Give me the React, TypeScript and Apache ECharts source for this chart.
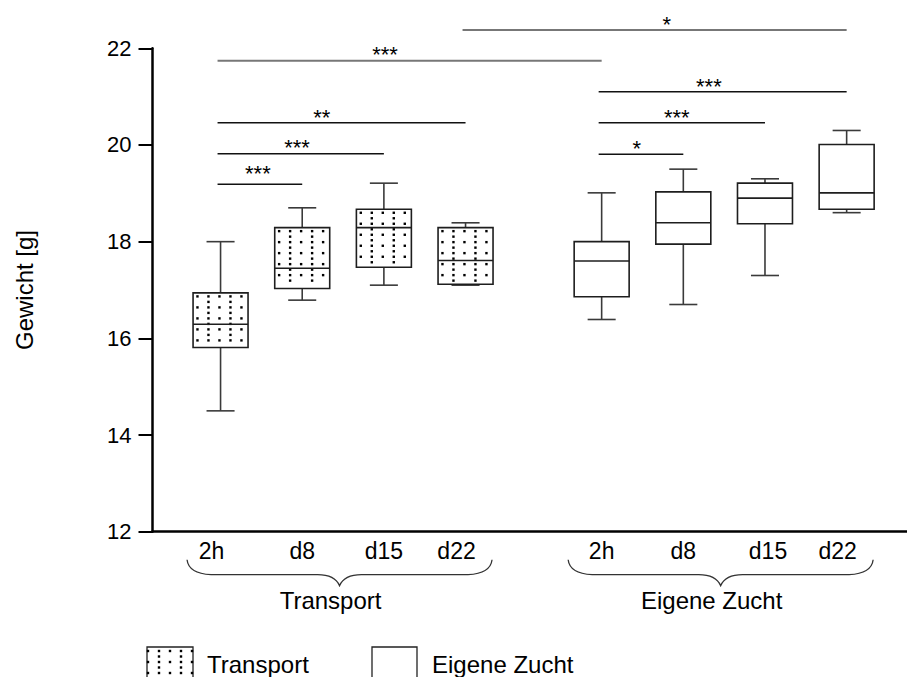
import React, { useEffect, useRef } from 'react';
import * as echarts from 'echarts';

// ---------------- data ----------------
const groupNames = ['Transport', 'Eigene Zucht'];
const timeLabels = ['2h', 'd8', 'd15', 'd22'];
// category slot of every box on the x axis (8 boxes, 28 slots in total)
const boxSlots = [2, 5, 8, 11, 16, 19, 22, 25];
const SLOT_COUNT = 28;
const yTicks = [12, 14, 16, 18, 20, 22];

// [min, Q1, median, Q3, max]
const transportStats = [
  [14.5, 15.81, 16.29, 16.94, 18.0],
  [16.79, 17.03, 17.45, 18.29, 18.7],
  [17.1, 17.47, 18.29, 18.67, 19.21],
  [17.1, 17.12, 17.61, 18.29, 18.39],
];
const eigeneStats = [
  [16.39, 16.86, 17.6, 18.0, 19.01],
  [16.7, 17.95, 18.39, 19.03, 19.5],
  [17.3, 18.37, 18.9, 19.21, 19.3],
  [18.6, 18.67, 19.01, 20.01, 20.3],
];

// significance bars: [fromBox, toBox, barLevel, starSlot, starLevel]
const sigBars = [
  [3, 7, 22.38, 18.39, 22.59],
  [0, 4, 21.74, 8.04, 21.97],
  [4, 7, 21.1, 19.94, 21.32],
  [0, 3, 20.46, 5.72, 20.67],
  [4, 6, 20.46, 18.76, 20.68],
  [0, 2, 19.82, 4.81, 20.05],
  [4, 5, 19.81, 17.29, 20.04],
  [0, 1, 19.19, 3.37, 19.52],
];
const sigLabels = ['*', '***', '***', '**', '***', '***', '*', '***'];
const sigGray = [true, true, false, false, false, false, false, false];

// --------------------------------------
const FONT = '"Liberation Sans", Arial, Helvetica, sans-serif';

const slotLabels: string[] = Array.from({ length: SLOT_COUNT }, () => '');
boxSlots.forEach((s, i) => {
  slotLabels[s] = timeLabels[i % 4];
});

const allStats = [...transportStats, ...eigeneStats];
const boxData = boxSlots.map((s, i) => [s, ...allStats[i], i < 4 ? 1 : 0]);
const sigData = sigBars.map(([a, b, lvl, sx, sy]) => [boxSlots[a], lvl, boxSlots[b], sx, sy]);
const groupData = [
  [boxSlots[0], 12, boxSlots[3]],
  [boxSlots[4], 12, boxSlots[7]],
];

function renderBox(params: any, api: any) {
  const x = api.value(0);
  const pMin = api.coord([x, api.value(1)]);
  const cx = pMin[0];
  const yMin = pMin[1];
  const yQ1 = api.coord([x, api.value(2)])[1];
  const yMed = api.coord([x, api.value(3)])[1];
  const yQ3 = api.coord([x, api.value(4)])[1];
  const yMax = api.coord([x, api.value(5)])[1];
  const dotted = api.value(6) === 1;
  const slotW = api.size([1, 0])[0];
  const bw = slotW * 2.02;
  const capW = slotW * 1.03;
  const left = cx - bw / 2;
  const wStyle = { stroke: '#3a3a3a', lineWidth: 1.6 };
  const children: any[] = [];
  children.push({ type: 'line', shape: { x1: cx, y1: yMax, x2: cx, y2: yQ3 }, style: wStyle });
  children.push({ type: 'line', shape: { x1: cx, y1: yQ1, x2: cx, y2: yMin }, style: wStyle });
  children.push({ type: 'line', shape: { x1: cx - capW / 2, y1: yMax, x2: cx + capW / 2, y2: yMax }, style: wStyle });
  children.push({ type: 'line', shape: { x1: cx - capW / 2, y1: yMin, x2: cx + capW / 2, y2: yMin }, style: wStyle });
  children.push({
    type: 'rect',
    shape: { x: left, y: yQ3, width: bw, height: yQ1 - yQ3 },
    style: { fill: '#fff', stroke: '#1e1e1e', lineWidth: 1.6 },
  });
  if (dotted) {
    const step = bw / 5;
    let row = 0;
    for (let y = yQ3 + 3.5; y <= yQ1 - 2.5; y += step / 2, row++) {
      for (let c = 0; c < 5; c++) {
        if (row % 2 === 1 && c % 2 === 0) continue;
        children.push({
          type: 'rect',
          shape: { x: left + step * (c + 0.4) - 1.2, y: y - 1.2, width: 2.4, height: 2.4 },
          style: { fill: '#000' },
        });
      }
    }
  }
  children.push({
    type: 'line',
    shape: { x1: left, y1: yMed, x2: left + bw, y2: yMed },
    style: { stroke: '#1e1e1e', lineWidth: 1.6 },
  });
  return { type: 'group', children };
}

function renderSig(params: any, api: any) {
  const idx = params.dataIndex;
  const p1 = api.coord([api.value(0), api.value(1)]);
  const p2 = api.coord([api.value(2), api.value(1)]);
  const ps = api.coord([api.value(3), api.value(4)]);
  const gray = sigGray[idx];
  return {
    type: 'group',
    children: [
      {
        type: 'line',
        shape: { x1: p1[0] - 3, y1: p1[1], x2: p2[0], y2: p2[1] },
        style: { stroke: gray ? '#777' : '#111', lineWidth: gray ? 2 : 1.5 },
      },
      {
        type: 'text',
        x: ps[0],
        y: ps[1] + 5,
        style: {
          text: sigLabels[idx],
          fill: '#000',
          fontSize: 22,
          fontFamily: FONT,
          align: 'center',
          verticalAlign: 'middle',
        },
      },
    ],
  };
}

function renderGroup(params: any, api: any) {
  const idx = params.dataIndex;
  const a = api.coord([api.value(0), api.value(1)]);
  const b = api.coord([api.value(2), api.value(1)]);
  const slotW = api.size([1, 0])[0];
  const half = slotW * 1.01;
  const x0 = a[0] - half - 6;
  const x1 = b[0] + half - 1;
  const y0 = a[1] + 28;
  const w = x1 - x0;
  const m = x0 + w / 2;
  const yh = y0 + 15;
  const yt = y0 + 26;
  const d =
    `M${x0},${y0} C${x0 + 1},${y0 + 9} ${x0 + 8},${yh - 1} ${x0 + 24},${yh} ` +
    `L${m - 22},${yh} C${m - 10},${yh} ${m - 3},${yh + 4} ${m},${yt} ` +
    `C${m + 3},${yh + 4} ${m + 10},${yh} ${m + 22},${yh} ` +
    `L${x1 - 24},${yh} C${x1 - 8},${yh - 1} ${x1 - 1},${y0 + 9} ${x1},${y0}`;
  return {
    type: 'group',
    children: [
      { type: 'path', shape: { pathData: d }, style: { stroke: '#333', fill: 'none', lineWidth: 1.3 } },
      {
        type: 'text',
        x: m - 9,
        y: a[1] + 69,
        style: {
          text: groupNames[idx],
          fill: '#000',
          fontSize: 24,
          fontFamily: FONT,
          align: 'center',
          verticalAlign: 'middle',
        },
      },
    ],
  };
}

function legendDots(x0: number, y0: number, w: number, h: number) {
  const out: any[] = [];
  const step = 11;
  let row = 0;
  for (let y = y0 + 4; y <= y0 + h - 2; y += step / 2, row++) {
    for (let c = 0; c < 5; c++) {
      const x = x0 + 1 + step * c;
      if (x > x0 + w - 1) continue;
      if (row % 2 === 1 && c % 2 === 0) continue;
      out.push({ type: 'rect', shape: { x: x - 1.2, y: y - 1.2, width: 2.4, height: 2.4 }, style: { fill: '#000' } });
    }
  }
  return out;
}

// small horizontal nudges of individual tick labels (in px, negative = left)
const labelShift: Record<number, number> = { 2: -3, 11: -7, 22: 3, 25: -10 };

const option: any = {
  animation: false,
  backgroundColor: '#fff',
  textStyle: { fontFamily: FONT },
  grid: { left: 152.5, right: -7.7, top: 48.3, bottom: 145.3, outerBoundsMode: 'none', containLabel: false },
  xAxis: [
    {
      type: 'value',
      min: -0.5,
      max: SLOT_COUNT - 0.5,
      position: 'bottom',
      axisLine: { show: true, onZero: false, lineStyle: { color: '#000', width: 2.5 } },
      axisTick: { show: false },
      axisLabel: { show: false },
      splitLine: { show: false },
    },
    {
      type: 'category',
      data: slotLabels,
      position: 'bottom',
      axisLine: { show: false, onZero: false },
      axisTick: { show: false },
      splitLine: { show: false },
      axisLabel: {
        interval: 0,
        margin: 8,
        fontSize: 23,
        color: '#000',
        fontFamily: FONT,
        formatter: (value: string, index: number) => {
          const s = labelShift[index];
          if (!s || !value) return value;
          return s < 0 ? `{l|${value}}` : `{r|${value}}`;
        },
        rich: {
          l: { fontSize: 23, color: '#000', fontFamily: FONT, padding: [0, 18, 0, 0] },
          r: { fontSize: 23, color: '#000', fontFamily: FONT, padding: [0, 0, 0, 6] },
        },
      },
    },
  ],
  yAxis: {
    type: 'value',
    min: yTicks[0],
    max: yTicks[yTicks.length - 1],
    interval: 2,
    name: 'Gewicht [g]',
    nameLocation: 'middle',
    nameGap: 116,
    nameRotate: 90,
    nameTextStyle: { fontSize: 24, color: '#000', fontFamily: FONT },
    axisLine: { show: true, onZero: false, lineStyle: { color: '#000', width: 2.5 } },
    axisTick: { show: true, inside: false, length: 14, lineStyle: { color: '#000', width: 2 } },
    axisLabel: { margin: 21, fontSize: 22, color: '#000', fontFamily: FONT },
    splitLine: { show: false },
  },
  series: [
    {
      type: 'custom',
      name: 'boxes',
      xAxisIndex: 0,
      renderItem: renderBox,
      data: boxData,
      clip: false,
      z: 3,
    },
    {
      type: 'custom',
      name: 'significance',
      xAxisIndex: 0,
      renderItem: renderSig,
      data: sigData,
      clip: false,
      z: 4,
    },
    {
      type: 'custom',
      name: 'groups',
      xAxisIndex: 0,
      renderItem: renderGroup,
      data: groupData,
      clip: false,
      z: 4,
    },
  ],
  graphic: [
    {
      type: 'group',
      children: [
        {
          type: 'rect',
          shape: { x: 147, y: 647, width: 46, height: 44 },
          style: { fill: '#fff', stroke: '#222', lineWidth: 1.3 },
        },
        ...legendDots(147, 647, 46, 44),
        {
          type: 'text',
          x: 207,
          y: 664,
          style: { text: groupNames[0], fill: '#000', fontSize: 24, fontFamily: FONT, verticalAlign: 'middle' },
        },
        {
          type: 'rect',
          shape: { x: 372, y: 647, width: 45, height: 44 },
          style: { fill: '#fff', stroke: '#222', lineWidth: 1.3 },
        },
        {
          type: 'text',
          x: 432,
          y: 664,
          style: { text: groupNames[1], fill: '#000', fontSize: 24, fontFamily: FONT, verticalAlign: 'middle' },
        },
      ],
    },
  ],
};

export default function App() {
  const ref = useRef<HTMLDivElement>(null);
  useEffect(() => {
    if (!ref.current) return;
    const chart = echarts.init(ref.current, null, { renderer: 'svg' });
    chart.setOption(option);
    return () => {
      chart.dispose();
    };
  }, []);
  return (
    <div
      ref={ref}
      style={{ position: 'fixed', left: 0, top: 0, width: 907, height: 677, background: '#fff' }}
    />
  );
}
